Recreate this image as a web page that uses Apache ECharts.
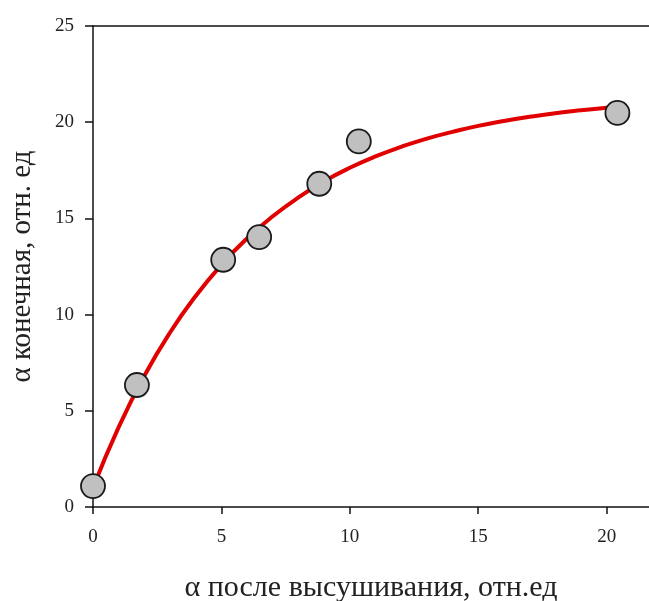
<!DOCTYPE html>
<html><head><meta charset="utf-8">
<script src="https://cdn.jsdelivr.net/npm/echarts@6/dist/echarts.min.js"></script>
<style>html,body{margin:0;padding:0;background:#fff}#c{width:649px;height:601px}</style>
</head><body><div id="c"></div>
<script>
// measured points
const pointsX = [0, 1.71, 5.07, 6.47, 8.81, 10.35, 20.42];
const pointsY = [1.09, 6.34, 12.85, 14.03, 16.8, 19.0, 20.48];
// fitted curve
const curveX = [0, 1, 2, 3, 4, 5, 6, 7, 8, 9, 10, 11, 12, 13, 14, 15, 16, 17, 18, 19, 20, 20.4];
const curveY = [1.0, 4.15, 6.82, 9.07, 10.97, 12.59, 13.96, 15.11, 16.09, 16.93, 17.63, 18.22, 18.72, 19.15, 19.5, 19.81, 20.06, 20.28, 20.47, 20.62, 20.75, 20.8];
const xTicks = [0, 5, 10, 15, 20];
const yTicks = [0, 5, 10, 15, 20, 25];
const xTitle = 'α после высушивания, отн.ед';
const yTitle = 'α конечная, отн. ед';

const font = 'Liberation Serif';
const chart = echarts.init(document.getElementById('c'));
chart.setOption({
  animation: false,
  grid: {left: 93, top: 26, bottom: 94, right: 0, outerBoundsMode: 'none'},
  xAxis: [{
    type: 'value', min: 0, max: 21.65, interval: 5,
    axisLine: {show: true, onZero: false, lineStyle: {color: '#111', width: 1.5}},
    axisTick: {show: true, length: 7, lineStyle: {color: '#111', width: 1.5}},
    axisLabel: {fontFamily: font, fontSize: 19, color: '#222', margin: 21,
      showMaxLabel: false,
      formatter: v => xTicks.includes(v) ? String(v) : ''},
    splitLine: {show: false},
    name: xTitle, nameLocation: 'middle', nameGap: 66,
    nameTextStyle: {fontFamily: font, fontSize: 30, color: '#222'}
  }, {
    type: 'value', position: 'top', min: 0, max: 21.65,
    axisLine: {show: true, onZero: false, lineStyle: {color: '#111', width: 1.5}},
    axisTick: {show: false}, axisLabel: {show: false}, splitLine: {show: false}
  }],
  yAxis: {
    type: 'value', min: 0, max: 25, interval: 5,
    axisLine: {show: true, onZero: false, lineStyle: {color: '#111', width: 1.5}},
    axisTick: {show: true, length: 8, lineStyle: {color: '#111', width: 1.5}},
    axisLabel: {fontFamily: font, fontSize: 19, color: '#222', margin: 19,
      formatter: v => yTicks.includes(v) ? String(v) : ''},
    splitLine: {show: false},
    name: yTitle, nameLocation: 'middle', nameGap: 56, nameRotate: 90,
    nameTextStyle: {fontFamily: font, fontSize: 29, color: '#222'}
  },
  series: [{
    type: 'line', smooth: true, showSymbol: false, xAxisIndex: 0,
    data: curveX.map((x, i) => [x, curveY[i]]),
    lineStyle: {color: '#e00000', width: 4}, z: 2
  }, {
    type: 'scatter', symbol: 'circle', symbolSize: 24, xAxisIndex: 0,
    data: pointsX.map((x, i) => [x, pointsY[i]]),
    itemStyle: {color: '#c0c0c0', opacity: 1, borderColor: '#1a1a1a', borderWidth: 1.8}, z: 3
  }]
});
</script></body></html>
